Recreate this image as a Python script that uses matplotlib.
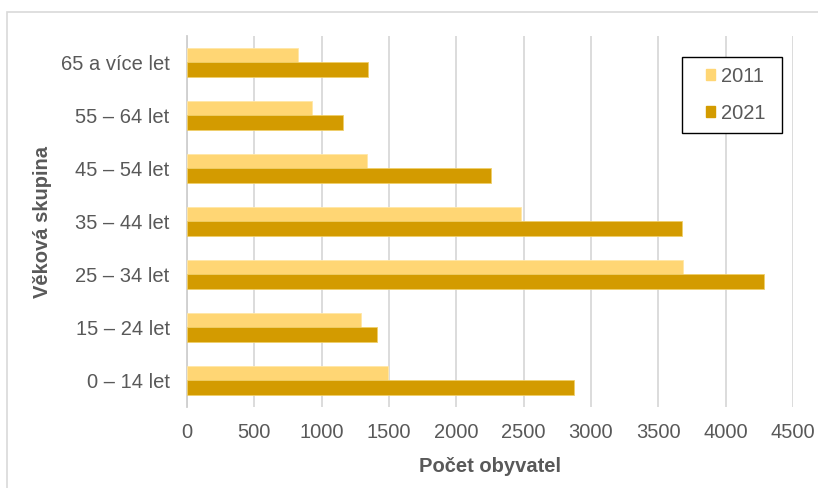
import numpy as np
import matplotlib
matplotlib.use("Agg")
import matplotlib.pyplot as plt
from matplotlib.patches import Rectangle, Patch

plt.rcParams['font.family'] = ['Liberation Sans', 'DejaVu Sans']

# věkové skupiny (odspodu nahoru)
categories = ['0 – 14 let', '15 – 24 let', '25 – 34 let', '35 – 44 let',
              '45 – 54 let', '55 – 64 let', '65 a více let']
pop_2011 = [1496, 1293, 3682, 2478, 1333, 928, 822]
pop_2021 = [2873, 1409, 4283, 3675, 2261, 1158, 1343]
x_ticks = [0, 500, 1000, 1500, 2000, 2500, 3000, 3500, 4000, 4500]

c2011 = '#FFD674'
c2021 = '#D39B00'
txt = '#595959'
grid = '#D9D9D9'
fs = 14.5

W, H = 818, 488
fig = plt.figure(figsize=(W / 100, H / 100), dpi=100)

# rámeček kolem celého grafu
fig.add_artist(Rectangle((7 / W, -0.5), 2, 0.5 + 1 - 12 / H, transform=fig.transFigure,
                         fill=False, edgecolor=grid, linewidth=1.2, clip_on=False))

ax = fig.add_axes([187 / W, 1 - 407 / H, (793 - 187) / W, (407 - 36) / H])

y = np.arange(len(categories))
h = 0.27
ax.barh(y + h / 2, pop_2011, height=h, color=c2011, edgecolor='#FFE7A6', linewidth=0.6, zorder=3)
ax.barh(y - h / 2, pop_2021, height=h, color=c2021, edgecolor='#F0CF6A', linewidth=0.6, zorder=3)

ax.set_xlim(0, 4500)
ax.set_ylim(-0.5, len(categories) - 0.5)
ax.set_xticks(x_ticks)
ax.set_yticks(y)
ax.set_yticklabels(categories)
ax.tick_params(axis='both', length=0, labelsize=fs, labelcolor=txt)
ax.tick_params(axis='y', pad=12.5)
ax.tick_params(axis='x', pad=11.5)
ax.grid(axis='x', color=grid, linewidth=1.3, zorder=0)
for s in ['top', 'right', 'bottom']:
    ax.spines[s].set_visible(False)
ax.spines['left'].set_color('#CFCFCF')
ax.spines['left'].set_linewidth(1.3)

ax.set_xlabel('Počet obyvatel', fontsize=fs, fontweight='bold', color=txt, va='center')
ax.xaxis.set_label_coords(0.5, (407 - 466) / 371)
ax.set_ylabel('Věková skupina', fontsize=fs, fontweight='bold', color=txt, va='center')
ax.yaxis.set_label_coords((43 - 187) / 606, 0.5)

# legenda s vlastním rámečkem
bx0, bx1, by0, by1 = 682, 782, 57, 133
ax.add_patch(Rectangle(((bx0 - 187) / 606, (407 - by1) / 371),
                       (bx1 - bx0) / 606, (by1 - by0) / 371,
                       transform=ax.transAxes, facecolor='white', edgecolor='black',
                       linewidth=1.0, zorder=5))
handles = [Patch(color=c2011, label='2011'), Patch(color=c2021, label='2021')]
leg = ax.legend(handles=handles, frameon=False, fontsize=fs, labelcolor=txt,
                handlelength=0.45, handleheight=0.45, handletextpad=0.3,
                labelspacing=0.9, loc='center left', borderaxespad=0, borderpad=0,
                bbox_to_anchor=((706 - 187) / 606, (407 - 95) / 371))
leg.set_zorder(6)

fig.savefig('out.png', dpi=100)
